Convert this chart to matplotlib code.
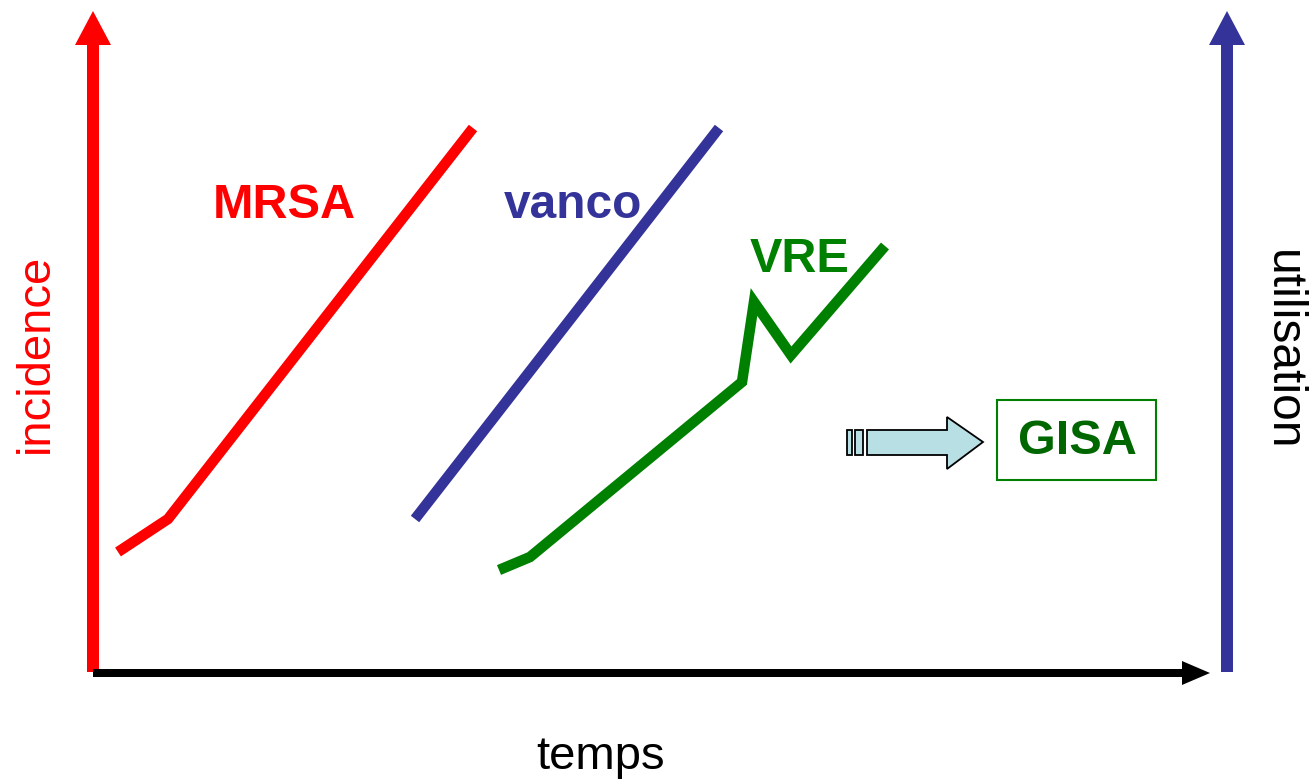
import matplotlib.pyplot as plt
from matplotlib.patches import Polygon, Rectangle

plt.rcParams['font.family'] = ['Liberation Sans', 'DejaVu Sans']

# curves, in picture coordinates (x right, y down)
mrsa_x = [118, 168, 473]
mrsa_y = [552, 519, 128]
vanco_x = [415, 719]
vanco_y = [519, 128]
vre_x = [499, 530, 742, 754, 791, 885]
vre_y = [570, 557, 382, 302, 355, 246]

red = '#ff0000'
blue = '#333399'
green = '#008000'
dark_green = '#006600'

fig = plt.figure(figsize=(13.1, 7.83), dpi=100)
ax = fig.add_axes([0, 0, 1, 1])
ax.set_xlim(0, 1310)
ax.set_ylim(783, 0)
ax.axis('off')

lw = 7.6
ax.plot(mrsa_x, mrsa_y, color=red, lw=lw, solid_capstyle='butt', solid_joinstyle='miter')
ax.plot(vanco_x, vanco_y, color=blue, lw=lw, solid_capstyle='butt')
ax.plot(vre_x, vre_y, color=green, lw=lw, solid_capstyle='butt', solid_joinstyle='miter')

# axes arrows
def up_arrow(x, color):
    ax.add_patch(Rectangle((x - 6, 44), 12, 628, color=color, lw=0))
    ax.add_patch(Polygon([[x - 18, 45], [x + 18, 45], [x, 11]], closed=True, color=color, lw=0))

up_arrow(93, red)
up_arrow(1227, blue)
ax.add_patch(Rectangle((93, 669), 1090, 8, color='black', lw=0))
ax.add_patch(Polygon([[1182, 661], [1182, 685], [1210, 673]], closed=True, color='black', lw=0))

# labels
ax.text(284, 206, 'MRSA', color=red, fontsize=35, fontweight='bold', ha='center', va='center')
ax.text(573, 206, 'vanco', color=blue, fontsize=34.5, fontweight='bold', ha='center', va='center')
ax.text(800, 259, 'VRE', color=green, fontsize=35, fontweight='bold', ha='center', va='center')
ax.text(36, 353, 'incidence', color=red, fontsize=34, rotation=90, ha='center', va='center')
ax.text(1282, 350, 'utilisation', color='black', fontsize=34.5, rotation=-90, ha='center', va='center')
ax.text(601, 757, 'temps', color='black', fontsize=34, ha='center', va='center')

# GISA box and block arrow
ax.add_patch(Rectangle((997, 400), 159, 80, fill=False, edgecolor=green, lw=1.5))
ax.text(1077, 442, 'GISA', color=dark_green, fontsize=35, fontweight='bold', ha='center', va='center')
fill = '#b8e0e4'
ax.add_patch(Rectangle((847, 430), 5, 25, facecolor=fill, edgecolor='black', lw=1.3))
ax.add_patch(Rectangle((855, 430), 8, 25, facecolor=fill, edgecolor='black', lw=1.3))
ax.add_patch(Polygon([[867, 430], [947, 430], [947, 417], [983, 442], [947, 469], [947, 455], [867, 455]],
                     closed=True, facecolor=fill, edgecolor='black', lw=1.3))

fig.savefig('out.png', dpi=100)
